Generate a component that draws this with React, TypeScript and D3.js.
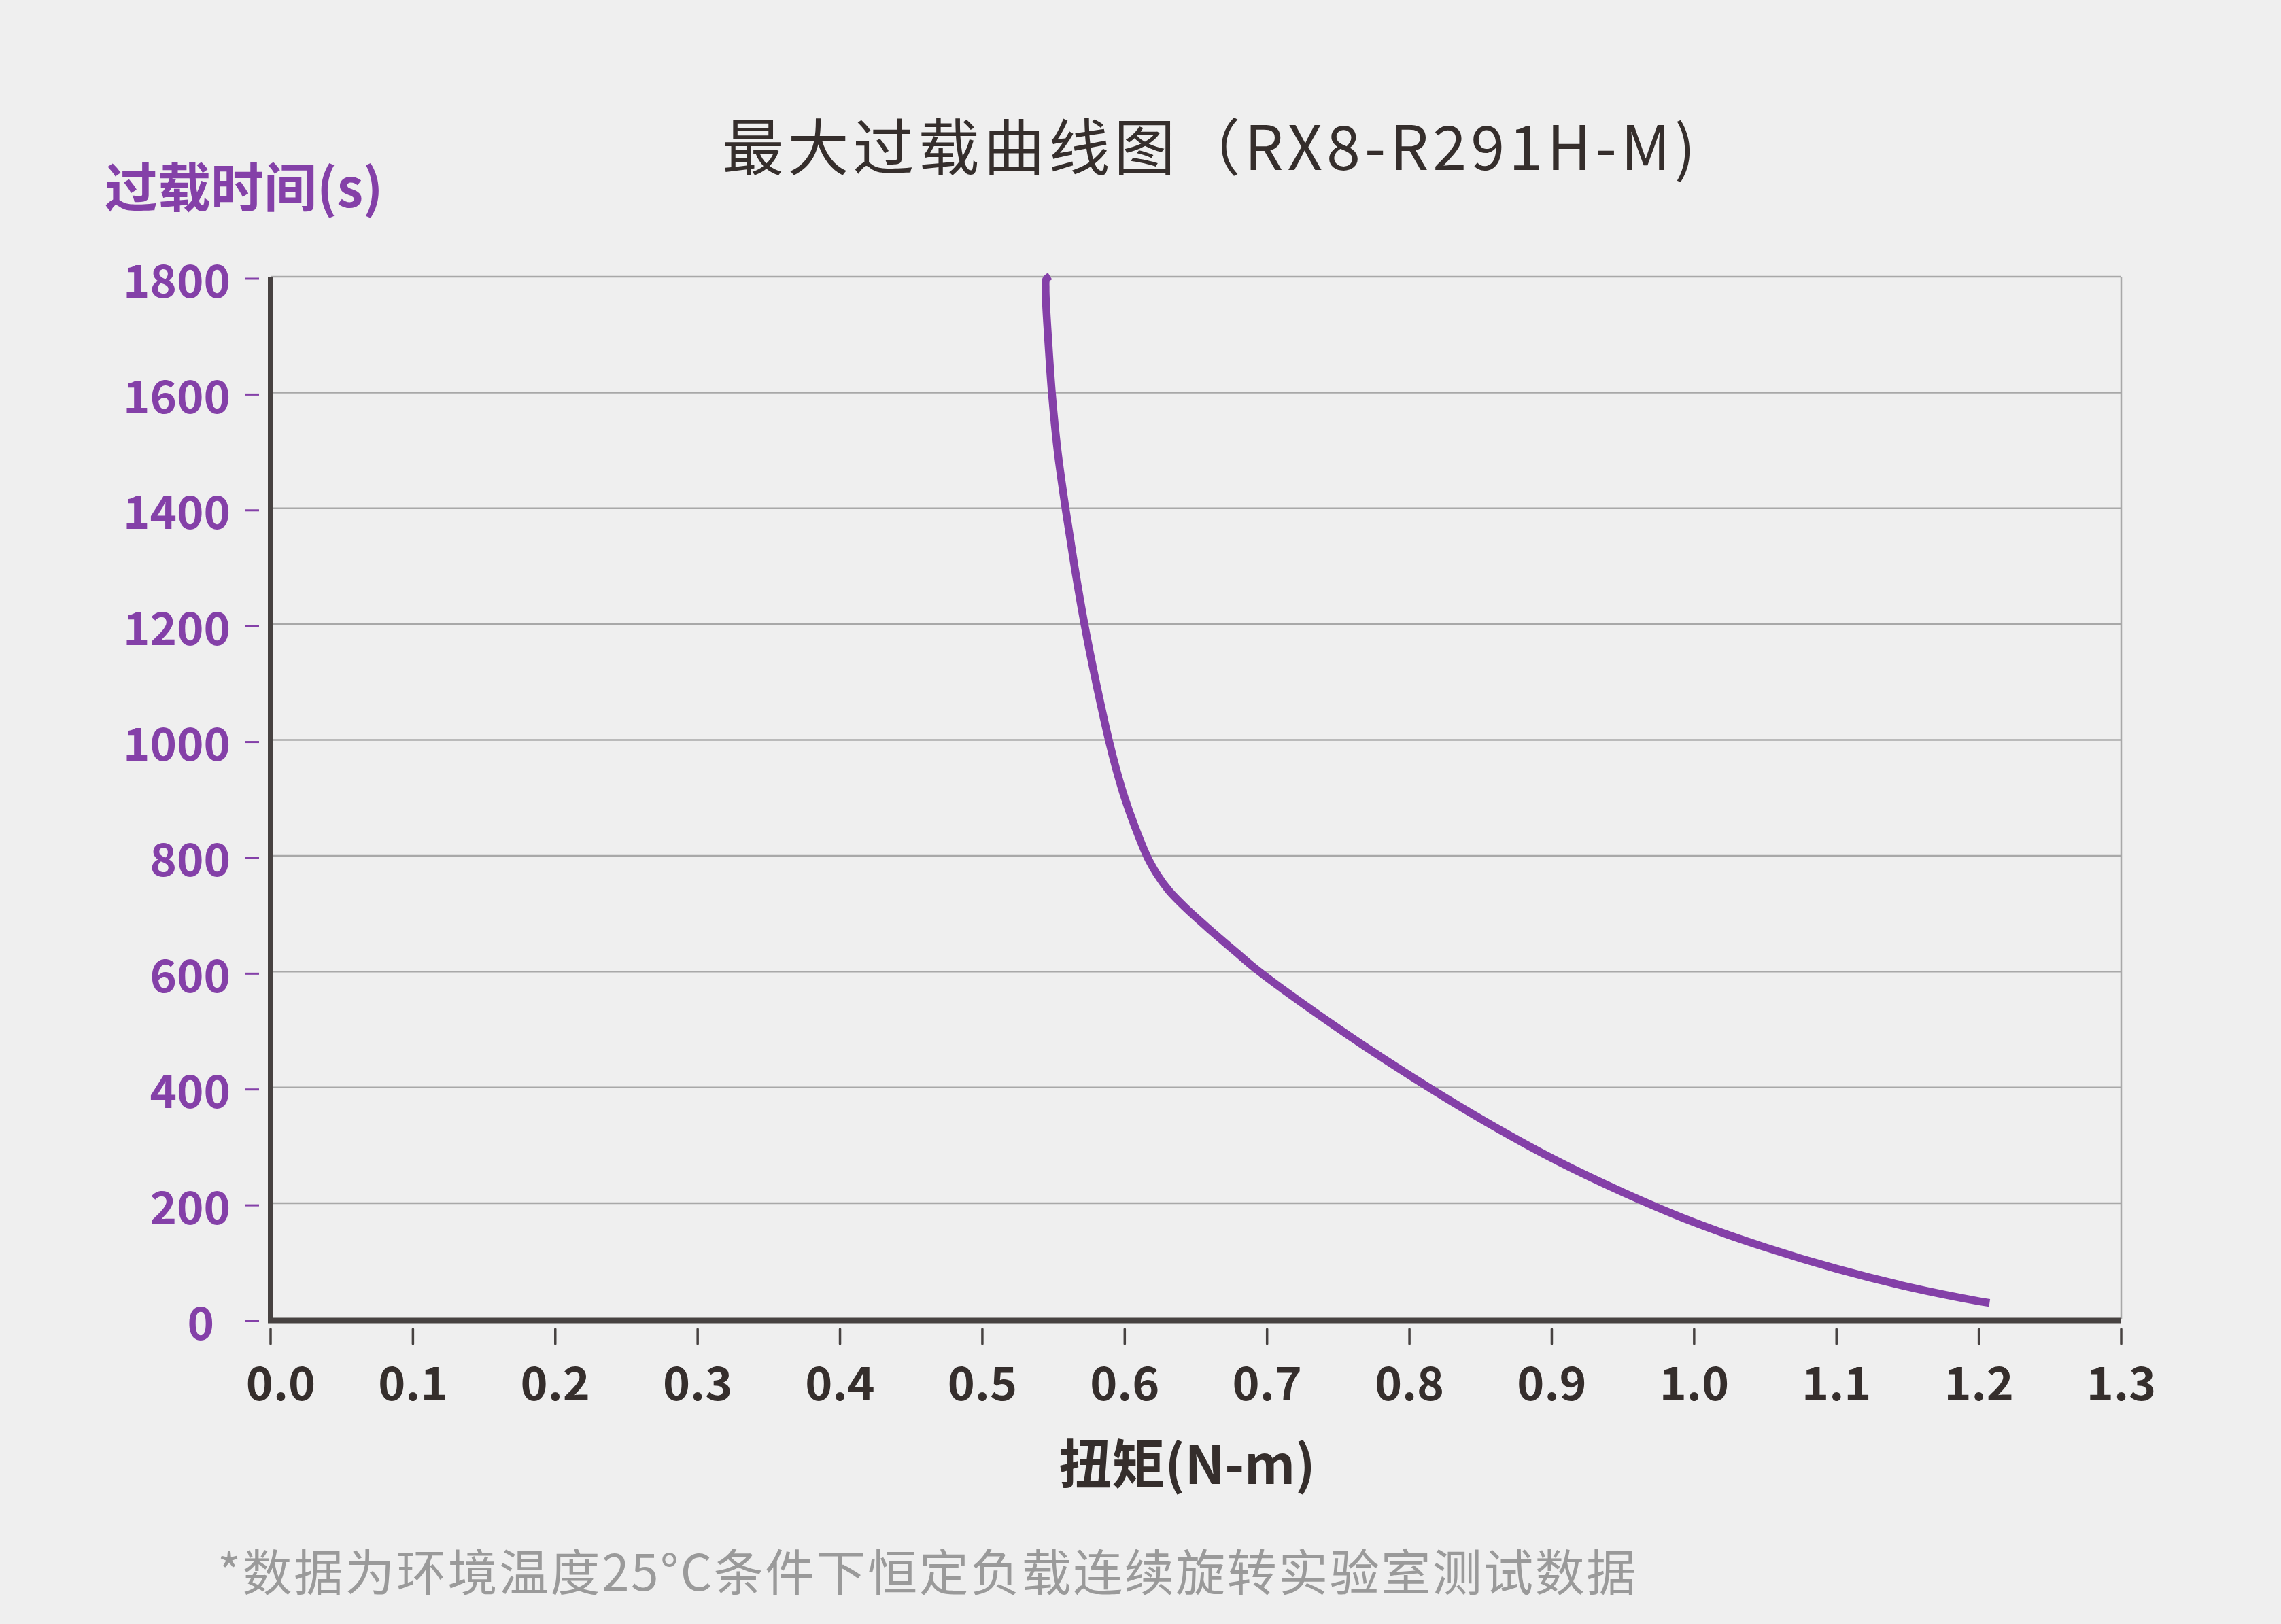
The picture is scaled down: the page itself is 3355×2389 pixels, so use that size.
import React from "react";
import * as d3 from "d3";

const torque = [0.5475, 0.5448, 0.5444, 0.5448, 0.546, 0.5488, 0.5528, 0.5584, 0.5647, 0.5717, 0.5798, 0.5888, 0.594, 0.6, 0.6072, 0.6155, 0.6222, 0.631, 0.642, 0.66, 0.678, 0.6945, 0.75, 0.8, 0.85, 0.9, 0.95, 1.0, 1.05, 1.1, 1.15, 1.2, 1.2075];
const overloadTime = [1801, 1795, 1780, 1750, 1700, 1600, 1500, 1400, 1300, 1200, 1100, 1000, 950, 900, 850, 800, 770, 740, 712, 672, 634, 600, 502, 421, 346, 278, 219, 167, 124, 87, 56, 31, 28];

const xTicks = [0, 0.1, 0.2, 0.3, 0.4, 0.5, 0.6, 0.7, 0.8, 0.9, 1.0, 1.1, 1.2, 1.3];
const yTicks = [0, 200, 400, 600, 800, 1000, 1200, 1400, 1600, 1800];

const titleText = "最大过载曲线图（RX8-R291H-M)";
const yLabelText = "过载时间(s)";
const xLabelText = "扭矩(N-m)";
const noteText = "*数据为环境温度25°C条件下恒定负载连续旋转实验室测试数据";

const W = 3355;
const H = 2389;
const PURPLE = "#8440a8";
const DARK = "#352e2c";
const AXIS = "#474241";
const GRID = "#a8a8a8";
const FONT = "'Noto Sans CJK SC', 'Noto Sans', sans-serif";

export default function App() {
  const x = d3.scaleLinear().domain([0, 1.3]).range([398, 3120]);
  const y = d3.scaleLinear().domain([0, 1800]).range([1940.5, 407]);
  const pts: [number, number][] = torque.map((t, i) => [t, overloadTime[i]]);
  const line = d3
    .line<[number, number]>()
    .x((d) => x(d[0]))
    .y((d) => y(d[1]))
    .curve(d3.curveCatmullRom.alpha(0.5));
  const [x0, x1] = x.range();
  const [yb, yt] = y.range();

  return (
    <svg
      width={W}
      height={H}
      viewBox={`0 0 ${W} ${H}`}
      style={{ position: "absolute", left: 0, top: 0, display: "block" }}
      fontFamily={FONT}
    >
      <rect x={0} y={0} width={W} height={H} fill="#efefef" />
      {/* grid */}
      {yTicks.map((v) => (
        <line key={"g" + v} x1={x0} x2={x1} y1={y(v)} y2={y(v)} stroke={GRID} strokeWidth={2.5} />
      ))}
      <line x1={x1} x2={x1} y1={yt} y2={yb} stroke={GRID} strokeWidth={2.5} />
      {/* curve */}
      <path d={line(pts) || ""} fill="none" stroke={PURPLE} strokeWidth={11.5} strokeLinecap="butt" strokeLinejoin="round" />
      {/* axes */}
      <line x1={x0} x2={x0} y1={yt} y2={yb + 4} stroke={AXIS} strokeWidth={8} />
      <line x1={x0 - 4} x2={x1} y1={yb + 2} y2={yb + 2} stroke={AXIS} strokeWidth={8} />
      {/* y ticks */}
      {yTicks.map((v) => (
        <g key={"y" + v}>
          <line x1={360} x2={381} y1={y(v) + 3} y2={y(v) + 3} stroke={PURPLE} strokeWidth={3} />
          <text
            x={v === 0 ? 315 : 339}
            y={y(v) + 1}
            textAnchor="end"
            dominantBaseline="central"
            fontSize={67}
            fontWeight={700}
            fill={PURPLE}
          >
            {v}
          </text>
        </g>
      ))}
      {/* x ticks */}
      {xTicks.map((t, i) => (
        <g key={"x" + t}>
          <line x1={x(t)} x2={x(t)} y1={1955} y2={1977} stroke={AXIS} strokeWidth={3.5} strokeLinecap="round" />
          <text
            x={x(t) + (i === 0 ? 15 : 0)}
            y={2060}
            textAnchor="middle"
            fontSize={68}
            fontWeight={700}
            fill={DARK}
          >
            {t.toFixed(1)}
          </text>
        </g>
      ))}
      {/* title */}
      <text x={1781} y={250} textAnchor="middle" fontSize={90} fill={DARK} letterSpacing={6}>
        {titleText}
      </text>
      {/* y label */}
      <text x={154} y={305} fontSize={78} fontWeight={700} fill={PURPLE}>
        {yLabelText}
      </text>
      {/* x label */}
      <text x={1746} y={2183} textAnchor="middle" fontSize={78} fontWeight={700} fill={DARK}>
        {xLabelText}
      </text>
      {/* footnote */}
      <text x={320} y={2340} fontSize={73} fill="#9a9a9a" letterSpacing={2.5}>
        {noteText}
      </text>
    </svg>
  );
}
